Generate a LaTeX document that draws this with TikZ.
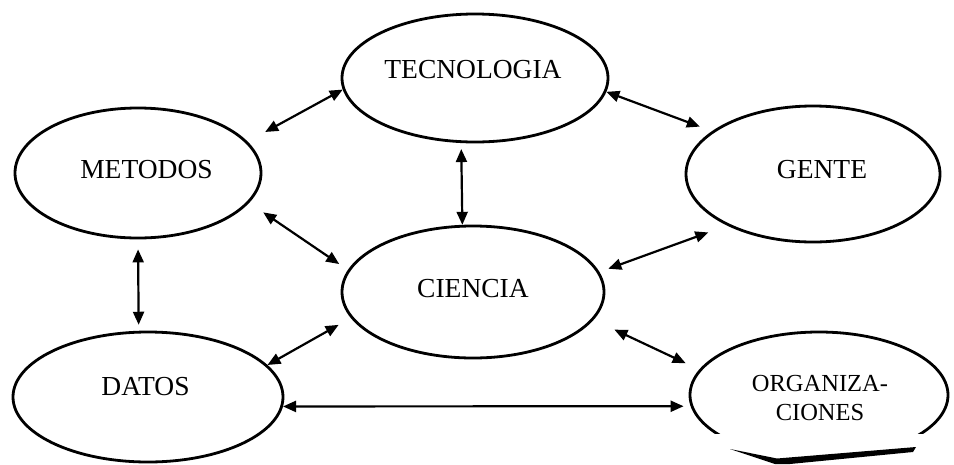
\documentclass[tikz,border=0pt]{standalone}
\usepackage{fontspec}
\setmainfont{Liberation Serif}
\usetikzlibrary{arrows.meta,shapes.geometric}
\begin{document}
\begin{tikzpicture}[x=1pt,y=-1pt,
  bubble/.style={draw, ellipse, line width=2.8pt, inner sep=0pt},
  caption/.style={anchor=base, inner sep=0pt, font=\fontsize{27.5}{30}\selectfont},
  smallcaption/.style={inner sep=0pt, align=center, font=\fontsize{24.5}{29}\selectfont},
  link/.style={{Triangle[length=13pt,width=11pt]}-{Triangle[length=13pt,width=11pt]}, line width=2.2pt}]
\useasboundingbox (0,0) rectangle (954,464);

% ellipses
\node[bubble, minimum width=266pt, minimum height=128pt] (tec) at (475,78) {};
\node[bubble, minimum width=246pt, minimum height=130pt] (met) at (138,173) {};
\node[bubble, minimum width=254pt, minimum height=136pt] (gen) at (813,174) {};
\node[bubble, minimum width=262pt, minimum height=132pt] (cie) at (473,292) {};
\node[bubble, minimum width=270pt, minimum height=130pt] (dat) at (148,397) {};
\begin{scope}
  \clip (670,320) rectangle (954,433);
  \node[bubble, minimum width=258pt, minimum height=126pt] (org) at (819,395) {};
\end{scope}

% dark stroke under the last ellipse
\fill (730,449) -- (777,458.5) -- (916,447) -- (913,452) -- (790,464) -- (775,464) -- cycle;

% labels
\node[caption] (tecT) at (473,78) {TECNOLOGIA};
\node[caption] (metT) at (146.5,178) {METODOS};
\node[caption] (genT) at (822,178) {GENTE};
\node[caption] (cieT) at (473,297) {CIENCIA};
\node[caption] (datT) at (145.5,395) {DATOS};
\node[smallcaption] (orgT) at (820,398) {ORGANIZA-\\CIONES};

% connections
\draw[link, shorten >=20pt] (tec.185.6) -- (met.16.4);
\draw[link, shorten >=13pt] (tec.-6) -- (gen.157.9);
\draw[link, shorten <=6pt] (tec.258.5) -- (cie.99.5);
\draw[link, shorten <=17pt, shorten >=10.5pt] (met.-15) -- (cie.170.4);
\draw[link, shorten <=20pt, shorten >=9.5pt] (gen.211.4) -- (cie.9);
\draw[link, shorten <=10pt, shorten >=6pt] (met.south) -- (dat.98.8);
\draw[link, shorten <=14pt] (cie.192.2) -- (dat.15);
\draw[link, shorten <=23pt, shorten >=15pt] (cie.-13.4) -- (org.168.8);
\draw[link, shorten >=7pt] (dat.-4.7) -- (org.185.9);
\end{tikzpicture}
\end{document}
